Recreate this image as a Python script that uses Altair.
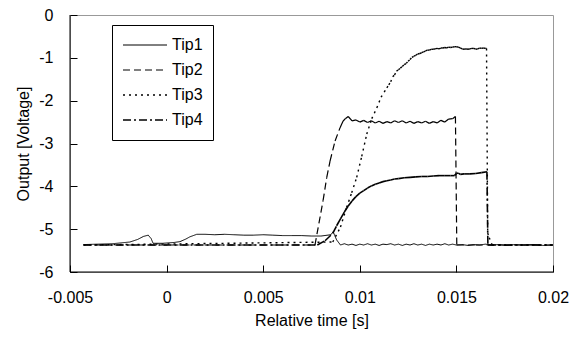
import altair as alt
import pandas as pd

series_names = ["Tip1", "Tip2", "Tip3", "Tip4"]

tip1_t = [-0.0043, -0.0028, -0.0019, -0.0015, -0.0012, -0.00095, -0.0008, -0.0007,
          -0.0002, 0.0004, 0.0007, 0.0010, 0.0012, 0.00156, 0.0020, 0.0025, 0.0030,
          0.0035, 0.0040, 0.0045, 0.0050, 0.0055, 0.0060, 0.0065, 0.0070, 0.0075,
          0.0080, 0.0085, 0.00862, 0.0088,
          0.0090, 0.0092, 0.0094, 0.0096, 0.0098, 0.0100, 0.0102, 0.0104, 0.0106,
          0.0108, 0.0110, 0.0112, 0.0114, 0.0116, 0.0118, 0.0120, 0.0122, 0.0124,
          0.0126, 0.0128, 0.0130, 0.0132, 0.0134, 0.0136, 0.0138, 0.0140, 0.0142,
          0.0144, 0.0146, 0.0148, 0.0150, 0.0153, 0.0156, 0.0159, 0.0162, 0.0165,
          0.0168, 0.0172, 0.0176, 0.0180, 0.0185, 0.0190, 0.0195, 0.0200]
tip1_v = [-5.36, -5.34, -5.30, -5.24, -5.17, -5.14, -5.22, -5.33,
          -5.33, -5.31, -5.29, -5.23, -5.18, -5.12, -5.12, -5.13, -5.12,
          -5.13, -5.14, -5.14, -5.13, -5.14, -5.15, -5.15, -5.15, -5.16,
          -5.16, -5.13, -5.06, -5.25,
          -5.37, -5.34, -5.37, -5.35, -5.38, -5.35, -5.37, -5.34, -5.37,
          -5.35, -5.38, -5.35, -5.36, -5.34, -5.37, -5.35, -5.38, -5.35,
          -5.37, -5.34, -5.37, -5.35, -5.38, -5.35, -5.37, -5.35, -5.37,
          -5.34, -5.37, -5.35, -5.37, -5.36, -5.38, -5.36, -5.37, -5.35,
          -5.37, -5.36, -5.38, -5.36, -5.37, -5.36, -5.38, -5.37]

tip2_t = [-0.0043, 0.00768, 0.0081, 0.00829, 0.00846, 0.00872, 0.00898, 0.00913,
          0.00925, 0.0094, 0.0096, 0.0098, 0.0100, 0.0102, 0.0104, 0.0106, 0.0108,
          0.0110, 0.0112, 0.0114, 0.0116, 0.0118, 0.0120, 0.0122, 0.0124, 0.0126,
          0.0128, 0.0130, 0.0132, 0.0134, 0.0136, 0.0138, 0.0140, 0.0142, 0.0144,
          0.0146, 0.0148, 0.01495, 0.01502, 0.0160, 0.0175, 0.0190, 0.0200]
tip2_v = [-5.37, -5.37, -4.33, -3.79, -3.41, -2.94, -2.63, -2.48,
          -2.42, -2.37, -2.47, -2.45, -2.50, -2.46, -2.51, -2.47, -2.52,
          -2.48, -2.53, -2.49, -2.52, -2.47, -2.51, -2.47, -2.52, -2.48,
          -2.53, -2.49, -2.52, -2.48, -2.53, -2.49, -2.52, -2.46, -2.50,
          -2.43, -2.42, -2.37, -5.37, -5.37, -5.37, -5.37, -5.37]

tip3_t = [-0.0043, 0.0086, 0.0090, 0.00932, 0.00958, 0.00984, 0.0101, 0.01036,
          0.01062, 0.01088, 0.0111, 0.0114, 0.0115, 0.0116, 0.0117, 0.0118, 0.0119,
          0.0120, 0.0121, 0.0122, 0.0123, 0.0124, 0.0125, 0.0126, 0.0127, 0.0128,
          0.0129, 0.0130, 0.0131, 0.0132, 0.0133, 0.0134, 0.0135, 0.0136, 0.0137,
          0.0138, 0.0139, 0.0140, 0.0141, 0.0142, 0.0143, 0.0144, 0.0145, 0.0146,
          0.0147, 0.0148, 0.0149, 0.0150, 0.0151, 0.0152, 0.0153, 0.0154, 0.0155,
          0.0156, 0.0157, 0.0158, 0.0159, 0.0160, 0.0161, 0.0162, 0.0163, 0.0164,
          0.0165, 0.01656, 0.01662, 0.0167, 0.01685, 0.0180, 0.0200]
tip3_v = [-5.37, -5.30, -4.95, -4.49, -4.15, -3.79, -3.30, -2.78,
          -2.42, -2.17, -1.92, -1.70, -1.63, -1.56, -1.44, -1.40, -1.31,
          -1.28, -1.24, -1.20, -1.16, -1.13, -1.08, -1.04, -0.99, -0.96,
          -0.94, -0.91, -0.90, -0.88, -0.86, -0.84, -0.82, -0.82, -0.80,
          -0.80, -0.79, -0.78, -0.79, -0.77, -0.77, -0.76, -0.77, -0.75,
          -0.76, -0.75, -0.74, -0.74, -0.75, -0.77, -0.79, -0.80, -0.79,
          -0.80, -0.79, -0.78, -0.78, -0.80, -0.79, -0.77, -0.78, -0.77,
          -0.78, -0.78, -5.09, -5.20, -5.37, -5.37, -5.37]

tip4_t = [-0.0043, 0.0078, 0.0082, 0.0086, 0.0088, 0.0090, 0.0092, 0.0094, 0.0096,
          0.0098, 0.0100, 0.0102, 0.0104, 0.0106, 0.0108, 0.0110, 0.0112, 0.0114,
          0.0116, 0.0118, 0.0120, 0.0123, 0.0126, 0.0129, 0.0132, 0.0135, 0.0138,
          0.0141, 0.0144, 0.0147, 0.0149, 0.0150, 0.0151, 0.0152, 0.0154, 0.0157,
          0.0160, 0.0163, 0.01658, 0.01663, 0.0175, 0.0190, 0.0200]
tip4_v = [-5.37, -5.37, -5.27, -5.10, -4.92, -4.76, -4.60, -4.46, -4.34,
          -4.24, -4.16, -4.10, -4.04, -3.99, -3.95, -3.92, -3.89, -3.87,
          -3.85, -3.83, -3.82, -3.80, -3.79, -3.78, -3.77, -3.77, -3.76,
          -3.75, -3.75, -3.75, -3.75, -3.70, -3.69, -3.72, -3.71, -3.71,
          -3.70, -3.68, -3.66, -5.37, -5.37, -5.37, -5.37]

x_ticks = [-0.005, 0, 0.005, 0.01, 0.015, 0.02]
y_ticks = [-6, -5, -4, -3, -2, -1, 0]

# one rule per segment, so each segment starts its own dash pattern
rows = []
for name, ts, vs in zip(series_names, [tip1_t, tip2_t, tip3_t, tip4_t],
                        [tip1_v, tip2_v, tip3_v, tip4_v]):
    for i in range(len(ts) - 1):
        rows.append({"series": name, "t": ts[i], "v": vs[i],
                     "t2": ts[i + 1], "v2": vs[i + 1]})
df = pd.DataFrame(rows)

FONT = "Liberation Sans"
FS = 16

legend = alt.Legend(
    title=None, orient="none", legendX=42, legendY=10,
    symbolType="stroke", symbolSize=1936, symbolStrokeColor="black",
    clipHeight=20, rowPadding=5, padding=10,
    labelFont=FONT, labelFontSize=FS, labelColor="black", labelOffset=4,
    strokeColor="black", fillColor="white",
)

segs = alt.Chart(df).mark_rule(color="black", strokeCap="butt").encode(
    x=alt.X("t:Q",
            scale=alt.Scale(domain=[-0.005, 0.02], nice=False, zero=False),
            axis=alt.Axis(values=x_ticks, title="Relative time [s]", offset=-7,
                          tickSize=7, tickColor="black", domain=False, grid=False,
                          labelExpr="'' + datum.value", labelPadding=17,
                          labelFlush=False, labelOverlap=False,
                          labelFont=FONT, labelFontSize=FS, labelColor="black",
                          titleFont=FONT, titleFontSize=FS, titleFontWeight="normal",
                          titleColor="black", titlePadding=7)),
    x2="t2:Q",
    y=alt.Y("v:Q",
            scale=alt.Scale(domain=[-6, 0], nice=False, zero=False),
            axis=alt.Axis(values=y_ticks, title="Output [Voltage]", offset=-7,
                          tickSize=7, tickColor="black", domain=False, grid=False,
                          labelExpr="'' + datum.value", labelPadding=17,
                          labelFlush=False, labelOverlap=False,
                          labelFont=FONT, labelFontSize=FS, labelColor="black",
                          titleFont=FONT, titleFontSize=FS, titleFontWeight="normal",
                          titleColor="black", titlePadding=7)),
    y2="v2:Q",
    strokeDash=alt.StrokeDash("series:N",
                              scale=alt.Scale(domain=series_names,
                                              range=[[1, 0], [7, 4], [2, 4], [8, 3, 2, 3]]),
                              legend=legend),
    strokeWidth=alt.StrokeWidth("series:N",
                                scale=alt.Scale(domain=series_names,
                                                range=[1, 1.6, 1.3, 1.25]),
                                legend=legend),
)

left_line = alt.Chart(pd.DataFrame({"x": [x_ticks[0]]})).mark_rule(
    color="black", strokeWidth=1).encode(x=alt.X("x:Q"))
bottom_line = alt.Chart(pd.DataFrame({"y": [y_ticks[0]]})).mark_rule(
    color="black", strokeWidth=1).encode(y=alt.Y("y:Q"))

chart = alt.layer(segs, left_line, bottom_line).properties(
    width=483, height=257,
    autosize=alt.AutoSizeParams(type="none"),
    padding={"left": 62, "top": 7, "right": 18, "bottom": 60},
    background="white",
).configure_view(stroke="#999999", strokeWidth=1)

chart.save("out.html", embed_options={"renderer": "svg", "actions": False})
